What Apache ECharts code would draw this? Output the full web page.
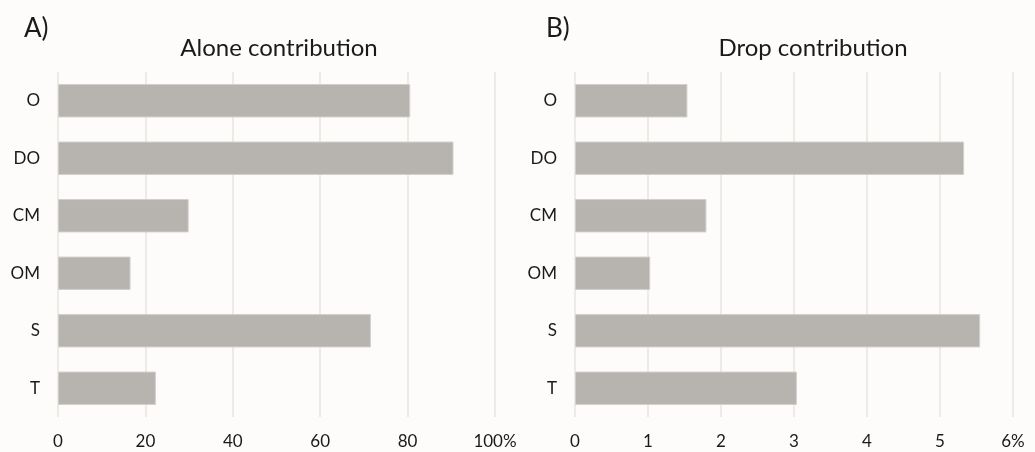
<!DOCTYPE html>
<html><head><meta charset="utf-8">
<script src="https://cdn.jsdelivr.net/npm/echarts@6/dist/echarts.min.js"></script>
<style>html,body{margin:0;padding:0;background:#fdfcfb}#c{width:1035px;height:452px}</style>
</head><body><div id="c"></div>
<script>
const categories = ['O','DO','CM','OM','S','T'];
const aloneValues = [80.6, 90.5, 29.9, 16.6, 71.6, 22.4];
const dropValues = [1.54, 5.33, 1.80, 1.03, 5.55, 3.04];
const aloneTicks = { min: 0, max: 100, interval: 20, unit: '%' };
const dropTicks = { min: 0, max: 6, interval: 1, unit: '%' };

const FONT = 'Lato';
const barColor = '#b7b3ae';
const gridColor = '#e8e4e1';
const textColor = '#1a1a1a';

function xAxis(idx, t) {
  return {
    type: 'value', gridIndex: idx, min: t.min, max: t.max, interval: t.interval,
    axisLine: { show: false }, axisTick: { show: false },
    splitLine: { lineStyle: { color: gridColor, width: 1.5 } },
    axisLabel: {
      color: textColor, fontFamily: FONT, fontSize: 17, margin: 16,
      formatter: v => v === t.max ? v + t.unit : String(v)
    }
  };
}
function yAxis(idx) {
  return {
    type: 'category', gridIndex: idx, data: categories, inverse: true,
    axisLine: { show: false }, axisTick: { show: false },
    axisLabel: { color: textColor, fontFamily: FONT, fontSize: 17, margin: 18 }
  };
}
function series(idx, data) {
  return {
    type: 'bar', xAxisIndex: idx, yAxisIndex: idx, data: data,
    barCategoryGap: '42%',
    itemStyle: { color: barColor, borderColor: '#d2cfcb', borderWidth: 1 },
    silent: true
  };
}

const chart = echarts.init(document.getElementById('c'), null, { renderer: 'canvas' });
chart.setOption({
  backgroundColor: '#fdfcfb',
  animation: false,
  textStyle: { fontFamily: FONT },
  title: [
    { text: 'A)', left: 19, top: 11, textStyle: { fontFamily: FONT, fontSize: 26, fontWeight: 'normal', color: textColor } },
    { text: 'Alone contribution', left: 274, textAlign: 'center', top: 31, textStyle: { fontFamily: FONT, fontSize: 24, fontWeight: 'normal', color: textColor } },
    { text: 'B)', left: 541, top: 11, textStyle: { fontFamily: FONT, fontSize: 26, fontWeight: 'normal', color: textColor } },
    { text: 'Drop contribution', left: 808, textAlign: 'center', top: 31, textStyle: { fontFamily: FONT, fontSize: 24, fontWeight: 'normal', color: textColor } }
  ],
  grid: [
    { left: 58, right: 540, top: 72, bottom: 35 },
    { left: 575, right: 22, top: 72, bottom: 35 }
  ],
  xAxis: [xAxis(0, aloneTicks), xAxis(1, dropTicks)],
  yAxis: [yAxis(0), yAxis(1)],
  series: [series(0, aloneValues), series(1, dropValues)]
});
</script></body></html>
